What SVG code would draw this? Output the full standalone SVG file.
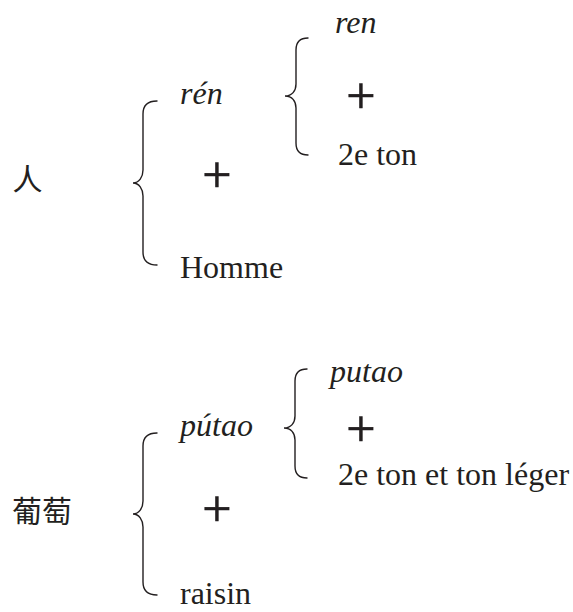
<svg xmlns="http://www.w3.org/2000/svg" width="573" height="612" viewBox="0 0 573 612">
<style>
.t{font-family:"Liberation Serif","Times New Roman","DejaVu Serif",serif;font-size:32px;fill:#231f20}
.i{font-style:italic}
.cjk{font-family:"Noto Sans CJK SC","Noto Sans CJK TC",sans-serif;font-size:30px;fill:#231f20}
.plus{font-family:"Liberation Serif","Times New Roman","DejaVu Serif",serif;font-size:52px;fill:#231f20;stroke:#231f20;stroke-width:0.7;text-anchor:middle}
.brace{fill:none;stroke:#231f20;stroke-width:1.4;stroke-linecap:round}
</style>
<rect width="573" height="612" fill="#ffffff"/>
<g id="connectors">
<path class="brace" d="M157,101 C148,101 143,105 143,114 L143,170 C143,177 139,183 133,183 C139,183 143,189 143,196 L143,252 C143,261 148,265 157,265"/>
<path class="brace" d="M308,38 C300,38 296,42 296,50 L296,84 C296,91 292,96 285,96 C292,96 296,101 296,108 L296,143 C296,151 300,155 308,155"/>
<path class="brace" d="M157,433 C148,433 143,437 143,446 L143,501 C143,508 139,514 133,514 C139,514 143,520 143,527 L143,582 C143,591 148,595 157,595"/>
<path class="brace" d="M307,369 C299,369 295,373 295,381 L295,416 C295,423 291,428 284,428 C291,428 295,433 295,440 L295,466 C295,474 299,478 307,478"/>
</g>
<g id="node-ren-char"><text class="cjk" x="12.5" y="190">人</text></g>
<g id="node-ren-pinyin"><text class="t i" x="180" y="104">rén</text></g>
<g id="node-ren-plus"><text class="plus" x="217" y="192">+</text></g>
<g id="node-ren-homme"><text class="t" x="180" y="278">Homme</text></g>
<g id="node-ren-base"><text class="t i" x="335" y="33">ren</text></g>
<g id="node-ren-plus2"><text class="plus" x="361" y="113">+</text></g>
<g id="node-ren-ton"><text class="t" x="338" y="165">2e ton</text></g>
<g id="node-putao-char"><text class="cjk" x="12" y="522">葡萄</text></g>
<g id="node-putao-pinyin"><text class="t i" x="180" y="436">pútao</text></g>
<g id="node-putao-plus"><text class="plus" x="217" y="526">+</text></g>
<g id="node-putao-raisin"><text class="t" x="180" y="604">raisin</text></g>
<g id="node-putao-base"><text class="t i" x="330" y="382">putao</text></g>
<g id="node-putao-plus2"><text class="plus" x="361" y="446">+</text></g>
<g id="node-putao-ton"><text class="t" x="338" y="485">2e ton et ton léger</text></g>
</svg>
